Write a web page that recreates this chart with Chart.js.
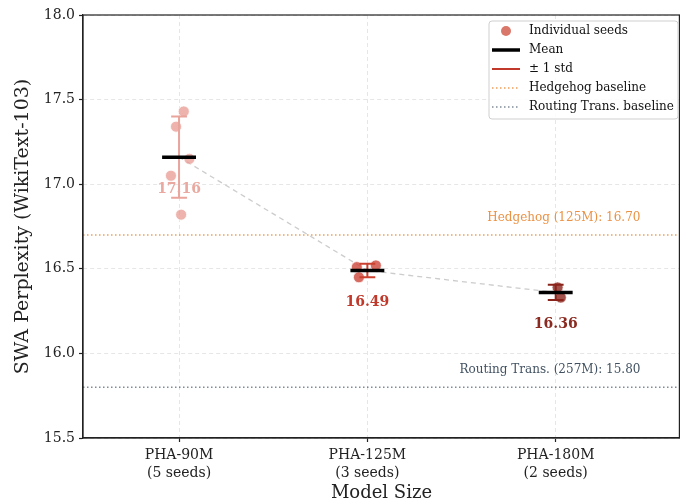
<!DOCTYPE html>
<html>
<head>
<meta charset="utf-8">
<script src="https://cdn.jsdelivr.net/npm/chart.js@4.4.1/dist/chart.umd.min.js"></script>
<style>
  html, body { margin: 0; padding: 0; background: #fff; }
  #wrap { width: 680px; height: 504px; }
</style>
</head>
<body>
<div id="wrap"><canvas id="myChart" width="680" height="504"></canvas></div>
<script>
// data
const categories = ['PHA-90M', 'PHA-125M', 'PHA-180M'];
const seedCounts = [5, 3, 2];
const seedValues = [
  [17.43, 17.34, 17.15, 17.05, 16.82],
  [16.51, 16.45, 16.52],
  [16.39, 16.33],
];
// small horizontal offsets (in category units) so the seeds don't overlap
const seedJitter = [
  [0.025, -0.016, 0.055, -0.043, 0.011],
  [-0.056, -0.045, 0.045],
  [0.01, 0.027],
];
const meanValues = [17.16, 16.49, 16.36];
const stdValues = [0.24, 0.04, 0.045];
const hedgehogBaseline = 16.70;
const routingBaseline = 15.80;
const yTicks = [15.5, 16.0, 16.5, 17.0, 17.5, 18.0];

const FONT = "'DejaVu Serif', serif";
const pointColors = ['rgba(230,150,140,0.72)', 'rgba(205,70,58,0.8)', 'rgba(140,38,30,0.8)'];
const barColors = ['#e9a49b', '#c9402f', '#8a241b'];
const labelColors = ['#e9a9a1', '#c0392b', '#8b2a20'];
const hedgeColor = 'rgba(230,126,34,0.75)';
const routeColor = 'rgba(44,62,80,0.6)';
const X_MIN = -0.51, X_MAX = 2.66;

function errorBarPoints(i) {
  const lo = meanValues[i] - stdValues[i];
  const hi = meanValues[i] + stdValues[i];
  const c = 0.042;
  return [
    { x: i - c, y: lo }, { x: i + c, y: lo }, { x: i, y: null },
    { x: i, y: lo }, { x: i, y: hi }, { x: i + c, y: null },
    { x: i - c, y: hi }, { x: i + c, y: hi },
  ];
}

const datasets = [];
categories.forEach((cat, i) => {
  // mean marker, on top
  datasets.push({
    type: 'line',
    data: [{ x: i - 0.09, y: meanValues[i] }, { x: i + 0.09, y: meanValues[i] }],
    borderColor: '#000',
    borderWidth: 3.5,
    pointRadius: 0,
    order: 0,
  });
  // +/- 1 std
  datasets.push({
    type: 'line',
    data: errorBarPoints(i),
    borderColor: barColors[i],
    borderWidth: 2,
    pointRadius: 0,
    spanGaps: false,
    order: 1,
  });
  // individual seeds
  datasets.push({
    type: 'scatter',
    data: seedValues[i].map((v, k) => ({ x: i + seedJitter[i][k], y: v })),
    backgroundColor: pointColors[i],
    borderColor: 'rgba(255,255,255,0.9)',
    borderWidth: 0.8,
    pointRadius: 5.5,
    order: 2,
  });
});
// trend through the means
datasets.push({
  type: 'line',
  data: meanValues.map((m, i) => ({ x: i, y: m })),
  borderColor: 'rgba(170,170,170,0.6)',
  borderDash: [5, 4],
  borderWidth: 1.3,
  pointRadius: 0,
  order: 3,
});
// baselines
datasets.push({
  type: 'line',
  data: [{ x: X_MIN, y: hedgehogBaseline }, { x: X_MAX, y: hedgehogBaseline }],
  borderColor: hedgeColor,
  borderDash: [1.5, 2.5],
  borderWidth: 1.5,
  pointRadius: 0,
  order: 4,
});
datasets.push({
  type: 'line',
  data: [{ x: X_MIN, y: routingBaseline }, { x: X_MAX, y: routingBaseline }],
  borderColor: routeColor,
  borderDash: [1.5, 2.5],
  borderWidth: 1.5,
  pointRadius: 0,
  order: 4,
});

const annotate = {
  id: 'annotate',
  afterDatasetsDraw(chart) {
    const { ctx, chartArea: a, scales: { x, y } } = chart;
    ctx.save();
    // box around plot
    ctx.strokeStyle = '#222';
    ctx.lineWidth = 1.2;
    ctx.strokeRect(a.left, a.top, a.right - a.left - 0.6, a.bottom - a.top);

    // mean value labels
    ctx.font = 'bold 14px ' + FONT;
    ctx.textAlign = 'center';
    ctx.textBaseline = 'middle';
    meanValues.forEach((m, i) => {
      ctx.fillStyle = labelColors[i];
      ctx.fillText(m.toFixed(2), x.getPixelForValue(i), y.getPixelForValue(m - 0.19));
    });

    // baseline labels
    ctx.font = '12px ' + FONT;
    ctx.textAlign = 'right';
    ctx.fillStyle = 'rgba(230,126,34,0.85)';
    ctx.fillText('Hedgehog (125M): ' + hedgehogBaseline.toFixed(2), x.getPixelForValue(2.45), y.getPixelForValue(hedgehogBaseline + 0.1));
    ctx.fillStyle = 'rgba(44,62,80,0.9)';
    ctx.fillText('Routing Trans. (257M): ' + routingBaseline.toFixed(2), x.getPixelForValue(2.45), y.getPixelForValue(routingBaseline + 0.1));

    // legend
    const lx = a.right - 191, ly = a.top + 6, lw = 189, lh = 98;
    ctx.fillStyle = 'rgba(255,255,255,0.85)';
    ctx.strokeStyle = '#cfcfcf';
    ctx.lineWidth = 1;
    ctx.beginPath();
    ctx.roundRect(lx, ly, lw, lh, 3);
    ctx.fill();
    ctx.stroke();

    const items = [
      { text: 'Individual seeds', kind: 'dot', color: 'rgba(210,95,80,0.85)' },
      { text: 'Mean', kind: 'line', color: '#000', width: 3.5 },
      { text: '\u00B1 1 std', kind: 'line', color: '#c0392b', width: 2 },
      { text: 'Hedgehog baseline', kind: 'dots', color: hedgeColor },
      { text: 'Routing Trans. baseline', kind: 'dots', color: routeColor },
    ];
    ctx.font = '12px ' + FONT;
    ctx.textAlign = 'left';
    items.forEach((it, k) => {
      const cy = ly + 10 + k * 19;
      const x0 = lx + 3, x1 = lx + 31;
      if (it.kind === 'dot') {
        ctx.fillStyle = it.color;
        ctx.beginPath();
        ctx.arc((x0 + x1) / 2, cy, 5, 0, Math.PI * 2);
        ctx.fill();
      } else {
        ctx.strokeStyle = it.color;
        ctx.lineWidth = it.kind === 'dots' ? 1.5 : it.width;
        ctx.setLineDash(it.kind === 'dots' ? [1.5, 2.5] : []);
        ctx.beginPath();
        ctx.moveTo(x0, cy);
        ctx.lineTo(x1, cy);
        ctx.stroke();
        ctx.setLineDash([]);
      }
      ctx.fillStyle = '#111';
      ctx.fillText(it.text, lx + 40, cy);
    });
    ctx.restore();
  },
};

new Chart(document.getElementById('myChart'), {
  type: 'scatter',
  data: { datasets },
  options: {
    responsive: false,
    animation: false,
    events: [],
    layout: { autoPadding: false, padding: { top: 15, right: 0, left: 0, bottom: 0 } },
    plugins: { legend: { display: false }, tooltip: { enabled: false } },
    scales: {
      x: {
        type: 'linear',
        min: X_MIN,
        max: X_MAX,
        afterBuildTicks: (scale) => { scale.ticks = categories.map((c, i) => ({ value: i })); },
        afterFit: (scale) => { scale.height = 66; scale.paddingRight = 0; scale.paddingLeft = 0; },
        ticks: {
          color: '#222',
          font: { family: FONT, size: 14, lineHeight: 1.25 },
          padding: 5,
          maxRotation: 0,
          callback: (v) => [categories[v], '(' + seedCounts[v] + ' seeds)'],
        },
        grid: { color: '#e6e6e6', lineWidth: 1, tickLength: 4, tickColor: '#222', tickWidth: 1.2 },
        border: { display: true, color: '#222', width: 1.2, dash: [4, 3] },
        title: { display: true, text: 'Model Size', color: '#222', font: { family: FONT, size: 18 }, padding: { top: 0, bottom: 0 } },
      },
      y: {
        min: 15.5,
        max: 18.0,
        afterBuildTicks: (scale) => { scale.ticks = yTicks.map((v) => ({ value: v })); },
        afterFit: (scale) => { scale.width = 83; },
        ticks: {
          color: '#222',
          font: { family: FONT, size: 14 },
          padding: 4,
          callback: (v) => v.toFixed(1),
        },
        grid: { color: '#e6e6e6', lineWidth: 1, tickLength: 4, tickColor: '#222', tickWidth: 1.2 },
        border: { display: true, color: '#222', width: 1.2, dash: [4, 3] },
        title: { display: true, text: 'SWA Perplexity (WikiText-103)', color: '#222', font: { family: FONT, size: 19 }, padding: { top: 12, bottom: 0 } },
      },
    },
  },
  plugins: [annotate],
});
</script>
</body>
</html>
